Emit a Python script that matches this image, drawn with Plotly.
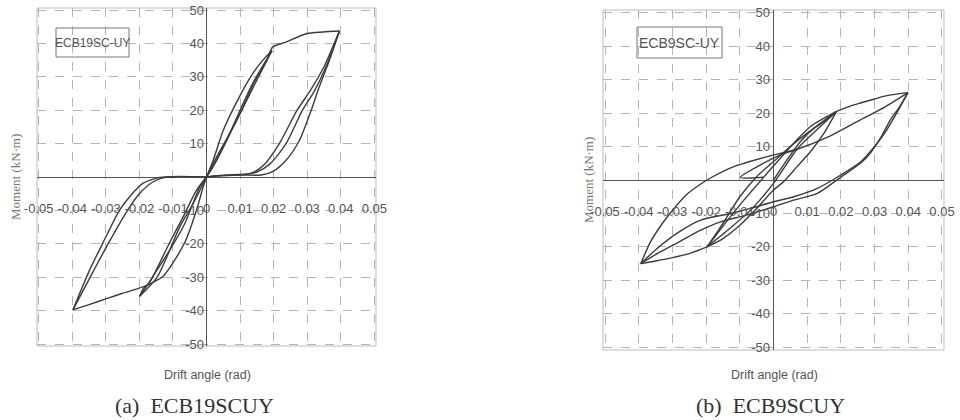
import plotly.graph_objects as go

# ---------------- data : panel (a) ECB19SC-UY ----------------
X_TICKS = [-0.05, -0.04, -0.03, -0.02, -0.01, 0, 0.01, 0.02, 0.03, 0.04, 0.05]
X_TICK_LABELS = ["-0.05", "-0.04", "-0.03", "-0.02", "-0.01", "0", "0.01", "0.02", "0.03", "0.04", "0.05"]
Y_TICKS = [50, 40, 30, 20, 10, -10, -20, -30, -40, -50]
Y_TICK_LABELS = ["50", "40", "30", "20", "10", "-10", "-20", "-30", "-40", "-50"]

# cycles to +/-0.02 rad
a_load_p02_x = [0, 0.002, 0.005, 0.0098, 0.0138, 0.0168, 0.0195]
a_load_p02_y = [0, 5, 14, 24, 31, 35, 37.8]
a_unload_p02_x = [0.0195, 0.016, 0.012, 0.008, 0.004, 0.001, 0]
a_unload_p02_y = [37.8, 31, 23, 15, 7, 1.5, 0]
a_load_p02b_x = [0, 0.003, 0.006, 0.010, 0.014, 0.0195]
a_load_p02b_y = [0, 5, 11, 20, 28.5, 37.8]
a_load_n02_x = [0, -0.003, -0.007, -0.011, -0.016, -0.0199]
a_load_n02_y = [0, -4, -12, -19.7, -29.8, -35.7]
a_unload_n02_x = [-0.0199, -0.0185, -0.013, -0.0065, -0.003, -0.001, 0]
a_unload_n02_y = [-35.7, -33, -29.8, -19.7, -10, -3, 0]
a_load_n02b_x = [0, -0.004, -0.008, -0.0146, -0.0199]
a_load_n02b_y = [0, -8, -15, -29.8, -35.7]

# cycles to +/-0.04 rad
a_load_p04_x = [0, 0.003, 0.0074, 0.0105, 0.014, 0.018, 0.0197, 0.0237, 0.0297, 0.0347, 0.0396]
a_load_p04_y = [0, 6, 14, 20, 28, 35, 38.9, 40.4, 42.9, 43.4, 43.7]
a_unload_p04_x = [0.0396, 0.0366, 0.0336, 0.0312, 0.0277, 0.0237, 0.0197, 0.0163, 0.010, 0.003, 0]
a_unload_p04_y = [43.7, 34.9, 27, 20, 11, 5, 1.6, 0.6, 0.6, 0.4, 0]
a_unload_p04b_x = [0.0396, 0.036, 0.032, 0.0286, 0.0237, 0.019, 0.015, 0.0128, 0.005, 0]
a_unload_p04b_y = [43.7, 34, 25.5, 20, 10, 4, 1.5, 1, 0.5, 0]
a_unload_p04c_x = [0.0396, 0.035, 0.031, 0.027, 0.0217, 0.017, 0.013, 0.003, 0]
a_unload_p04c_y = [43.7, 33, 26, 20, 10, 3.5, 1, 0.3, 0]
a_load_n04_x = [0, -0.002, -0.0065, -0.011, -0.0155, -0.0175, -0.025, -0.030, -0.035, -0.0398]
a_load_n04_y = [0, -3, -14, -22, -29, -32.2, -34.8, -36.5, -38.2, -39.8]
a_unload_n04_x = [-0.0398, -0.0348, -0.0309, -0.0259, -0.0229, -0.019, -0.014, -0.008, -0.003, 0]
a_unload_n04_y = [-39.8, -27.8, -19.8, -9.9, -5.9, -1.9, -0.1, 0.1, 0.1, 0]
a_unload_n04b_x = [-0.0398, -0.0335, -0.0292, -0.0235, -0.020, -0.016, -0.012, 0]
a_unload_n04b_y = [-39.8, -27.8, -19.8, -9.9, -5, -1.5, 0, 0]

# ---------------- data : panel (b) ECB9SC-UY ----------------
b_load_p02_x = [0, 0.004, 0.008, 0.012, 0.016, 0.0187]
b_load_p02_y = [0, 6, 11.5, 15.5, 18.5, 20.5]
b_unload_02_x = [0.0187, 0.0139, 0.007, 0, -0.0068, -0.013, -0.0197]
b_unload_02_y = [20.5, 16, 9.2, -1, -9, -14.5, -20]
b_reload_02_x = [-0.0197, -0.014, -0.0088, -0.0019, 0.006, 0.011, 0.0187]
b_reload_02_y = [-20, -12.5, -6, 2, 11, 16, 20.5]
b_unload_02b_x = [0.0187, 0.015, 0.011, 0.007, 0.003, 0, -0.005, -0.010, -0.015, -0.0197]
b_unload_02b_y = [20.5, 14, 8.5, 4, -0.5, -3, -8.5, -13.5, -17.5, -20]
b_reload_02b_x = [-0.0197, -0.015, -0.010, -0.005, 0, 0.005, 0.010, 0.015, 0.0187]
b_reload_02b_y = [-20, -13, -5, 1, 5.5, 10, 14, 17.5, 20.5]
b_gap_x = [-0.003, -0.0098, 0.002, 0.007]
b_gap_y = [0.8, 0.8, 7.5, 9.2]

b_env_pos_x = [0.0187, 0.0225, 0.0258, 0.030, 0.0327, 0.036, 0.0399]
b_env_pos_y = [20.5, 22, 23, 24.2, 25, 25.6, 26.1]
b_unload_04_x = [0.0399, 0.0375, 0.0347, 0.032, 0.0287, 0.0258, 0.0199, 0.013, 0.006, 0, -0.008, -0.0157, -0.0216, -0.028, -0.034, -0.0394]
b_unload_04_y = [26.1, 22, 18, 13, 8, 5, 0.8, -4, -6, -8, -10.5, -12.5, -15, -18.5, -21.7, -25]
b_unload_04b_x = [0.0399, 0.036, 0.033, 0.030, 0.026, 0.020, 0.013, 0.006, 0, -0.0068, -0.0127, -0.0216, -0.028, -0.034, -0.0394]
b_unload_04b_y = [26.1, 19, 14, 10, 5.5, 1.5, -2.5, -5, -6.5, -8.5, -10, -12, -15.5, -20, -25]
b_env_neg_x = [-0.0197, -0.025, -0.030, -0.035, -0.0394]
b_env_neg_y = [-20, -22, -23.2, -24.2, -25]
b_reload_04_x = [-0.0394, -0.0365, -0.033, -0.0295, -0.0256, -0.0216, -0.0187, -0.0118, -0.0019, 0.007, 0.016, 0.0258, 0.033, 0.0399]
b_reload_04_y = [-25, -18.5, -13, -8.5, -4.2, -1.2, 0.6, 4, 7, 9.2, 12.8, 18, 21.8, 26.1]

A_BRANCHES = [
    (a_load_p02_x, a_load_p02_y), (a_unload_p02_x, a_unload_p02_y), (a_load_p02b_x, a_load_p02b_y),
    (a_load_n02_x, a_load_n02_y), (a_unload_n02_x, a_unload_n02_y), (a_load_n02b_x, a_load_n02b_y),
    (a_load_p04_x, a_load_p04_y), (a_unload_p04_x, a_unload_p04_y), (a_unload_p04b_x, a_unload_p04b_y),
    (a_unload_p04c_x, a_unload_p04c_y), (a_load_n04_x, a_load_n04_y), (a_unload_n04_x, a_unload_n04_y),
    (a_unload_n04b_x, a_unload_n04b_y),
]
B_BRANCHES = [
    (b_load_p02_x, b_load_p02_y), (b_unload_02_x, b_unload_02_y), (b_reload_02_x, b_reload_02_y),
    (b_unload_02b_x, b_unload_02b_y), (b_reload_02b_x, b_reload_02b_y), (b_gap_x, b_gap_y),
    (b_env_pos_x, b_env_pos_y), (b_unload_04_x, b_unload_04_y), (b_unload_04b_x, b_unload_04b_y),
    (b_env_neg_x, b_env_neg_y), (b_reload_04_x, b_reload_04_y),
]

LINE_COLOR = "#3c3c3c"
SANS = "Liberation Sans, Arial, sans-serif"
SERIF = "Liberation Serif, DejaVu Serif, Times New Roman, serif"

W, H = 960, 420


def fx(sx):
    return sx / W


def fy(sy):
    return 1 - sy / H


fig = go.Figure()
for bx, by in A_BRANCHES:
    fig.add_trace(go.Scatter(x=bx, y=by, mode="lines", xaxis="x", yaxis="y",
                             line=dict(color=LINE_COLOR, width=1.4, shape="spline", smoothing=0.7),
                             showlegend=False, hoverinfo="skip"))
for bx, by in B_BRANCHES:
    fig.add_trace(go.Scatter(x=bx, y=by, mode="lines", xaxis="x2", yaxis="y2",
                             line=dict(color=LINE_COLOR, width=1.4, shape="spline", smoothing=0.7),
                             showlegend=False, hoverinfo="skip"))


def xax(domain, pos, rng):
    return dict(domain=domain, range=rng, tickvals=X_TICKS, ticktext=X_TICK_LABELS,
                showgrid=True, gridcolor="#b5b5b5", griddash="dash", gridwidth=1,
                zeroline=True, zerolinecolor="#555555", zerolinewidth=1.3, automargin=False,
                showline=False, ticks="", anchor="free", position=pos, tickangle=0,
                ticklabelstandoff=22, tickfont=dict(family=SANS, size=13, color="#555555"))


def yax(domain, pos, rng):
    return dict(domain=domain, range=rng, tickvals=Y_TICKS, ticktext=Y_TICK_LABELS,
                showgrid=True, gridcolor="#b5b5b5", griddash="dash", gridwidth=1,
                zeroline=True, zerolinecolor="#555555", zerolinewidth=1.3, automargin=False,
                showline=False, ticks="", anchor="free", position=pos,
                ticklabelstandoff=3, tickfont=dict(family=SANS, size=13, color="#555555"))


fig.update_layout(
    width=W, height=H, margin=dict(l=0, r=0, t=0, b=0, autoexpand=False),
    paper_bgcolor="white", plot_bgcolor="white", showlegend=False,
    xaxis=xax([fx(37), fx(376)], fy(177), [-0.0505, 0.0505]),
    yaxis=yax([fy(346), fy(8)], fx(207), [-50.6, 50.6]),
    xaxis2=xax([fx(603), fx(944)], fy(180), [-0.0506, 0.0506]),
    yaxis2=yax([fy(350), fy(10)], fx(773), [-50.8, 50.8]),
)

shapes = []
for xr, yr in (("x domain", "y domain"), ("x2 domain", "y2 domain")):
    shapes.append(dict(type="rect", xref=xr, yref=yr, x0=0, x1=1, y0=0, y1=1,
                       line=dict(color="#bdbdbd", width=1), layer="below"))
# specimen label boxes
shapes.append(dict(type="rect", xref="paper", yref="paper", x0=fx(56), x1=fx(129),
                   y0=fy(57), y1=fy(28), line=dict(color="#777777", width=1)))
shapes.append(dict(type="rect", xref="paper", yref="paper", x0=fx(637), x1=fx(722),
                   y0=fy(58), y1=fy(27), line=dict(color="#777777", width=1)))
fig.update_layout(shapes=shapes)


def note(text, sx, sy, font, angle=0):
    return dict(text=text, x=fx(sx), y=fy(sy), xref="paper", yref="paper",
                xanchor="center", yanchor="middle", showarrow=False, textangle=angle, font=font)


ann = [
    note("ECB19SC-UY", 92.5, 43, dict(family=SANS, size=12, color="#555555")),
    note("ECB9SC-UY", 679.5, 43, dict(family=SANS, size=14, color="#555555")),
    note("Drift angle (rad)", 207.5, 375, dict(family=SANS, size=12.5, color="#555555")),
    note("Drift angle (rad)", 774, 375, dict(family=SANS, size=12.5, color="#555555")),
    note("Moment (kN·m)", 15, 177, dict(family=SERIF, size=13, color="#777777"), -90),
    note("Moment (kN·m)", 588, 180, dict(family=SERIF, size=13, color="#777777"), -90),
    note("(a)  ECB19SCUY", 194, 405, dict(family=SERIF, size=22, color="#333333")),
    note("(b)  ECB9SCUY", 770, 405, dict(family=SERIF, size=22, color="#333333")),
]
fig.update_layout(annotations=ann)

# remove the browser's default 8px body margin so the figure fills the 960x420 window
fig.write_html("out.html", config={"displayModeBar": False},
               post_script="document.body.style.margin='0';document.body.style.overflow='hidden';")
